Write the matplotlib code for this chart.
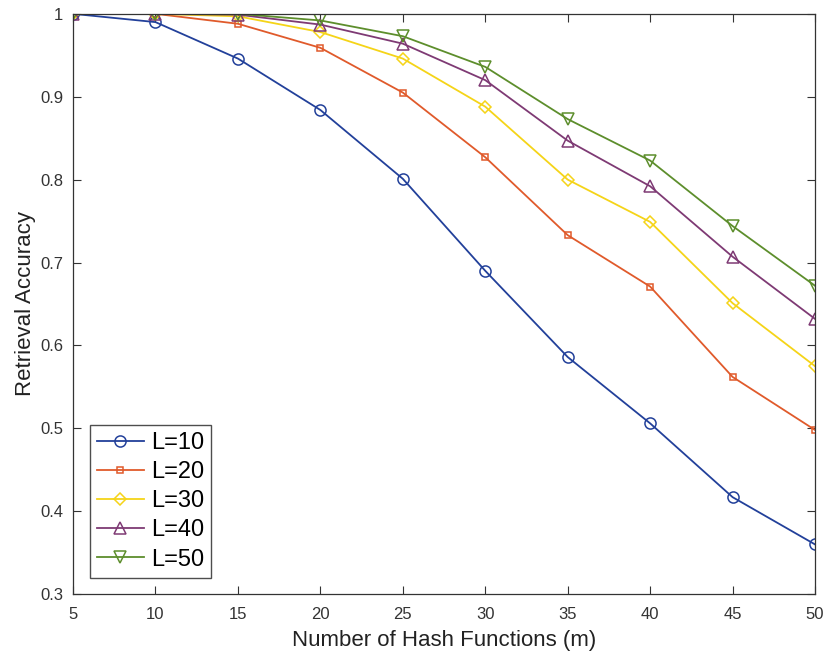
import matplotlib
matplotlib.use("Agg")
import matplotlib.pyplot as plt
import numpy as np
from matplotlib.ticker import FuncFormatter

plt.rcParams['font.family'] = ['Liberation Sans', 'DejaVu Sans']

# data
m = [5, 10, 15, 20, 25, 30, 35, 40, 45, 50]
acc_l10 = [1.0, 0.990, 0.946, 0.884, 0.801, 0.690, 0.586, 0.506, 0.417, 0.360]
acc_l20 = [1.0, 1.0, 0.988, 0.959, 0.905, 0.827, 0.733, 0.671, 0.562, 0.498]
acc_l30 = [1.0, 1.0, 0.997, 0.978, 0.946, 0.888, 0.800, 0.749, 0.651, 0.575]
acc_l40 = [1.0, 1.0, 0.999, 0.987, 0.964, 0.920, 0.847, 0.792, 0.707, 0.632]
acc_l50 = [1.0, 1.0, 1.0, 0.992, 0.973, 0.936, 0.873, 0.823, 0.744, 0.672]
labels = ["L=10", "L=20", "L=30", "L=40", "L=50"]

series = [acc_l10, acc_l20, acc_l30, acc_l40, acc_l50]
colors = ["#22409a", "#e05a2b", "#f5d418", "#7e3a74", "#5d8e2c"]
markers = ["o", "s", "D", "^", "v"]
msizes = [8, 5, 6, 8, 8]

fig = plt.figure(figsize=(8.3, 6.58), dpi=100)
ax = fig.add_axes([0.088, 0.097, 0.894, 0.882])

for y, c, mk, ms, lab in zip(series, colors, markers, msizes, labels):
    ax.plot(m, y, color=c, marker=mk, markersize=ms, markerfacecolor="none",
            markeredgecolor=c, linewidth=1.3, markeredgewidth=1.1, label=lab)

ax.set_xlim(5, 50)
ax.set_ylim(0.3, 1.0)
ax.set_xticks(np.arange(5, 51, 5))
ax.set_yticks([0.3, 0.4, 0.5, 0.6, 0.7, 0.8, 0.9, 1.0])
ax.yaxis.set_major_formatter(FuncFormatter(lambda v, p: "%g" % round(v, 2)))
ax.tick_params(direction="in", top=True, right=True, labelsize=12, length=6,
               color="#333333", labelcolor="#333333")
ax.tick_params(axis="x", pad=9)
ax.tick_params(axis="y", pad=7)
for s in ax.spines.values():
    s.set_color("#333333")
    s.set_linewidth(0.9)

ax.set_xlabel("Number of Hash Functions (m)", fontsize=16, color="#222222", labelpad=6)
ax.set_ylabel("Retrieval Accuracy", fontsize=16, color="#222222", labelpad=3)

leg = ax.legend(loc="lower left", bbox_to_anchor=(0.0, 0.0), fontsize=17,
                frameon=True, fancybox=False, edgecolor="#222222",
                handlelength=2.0, handletextpad=0.3, borderpad=0.3,
                labelspacing=0.3, borderaxespad=0.7)
leg.get_frame().set_linewidth(1.0)

fig.savefig("out.png", dpi=100)
